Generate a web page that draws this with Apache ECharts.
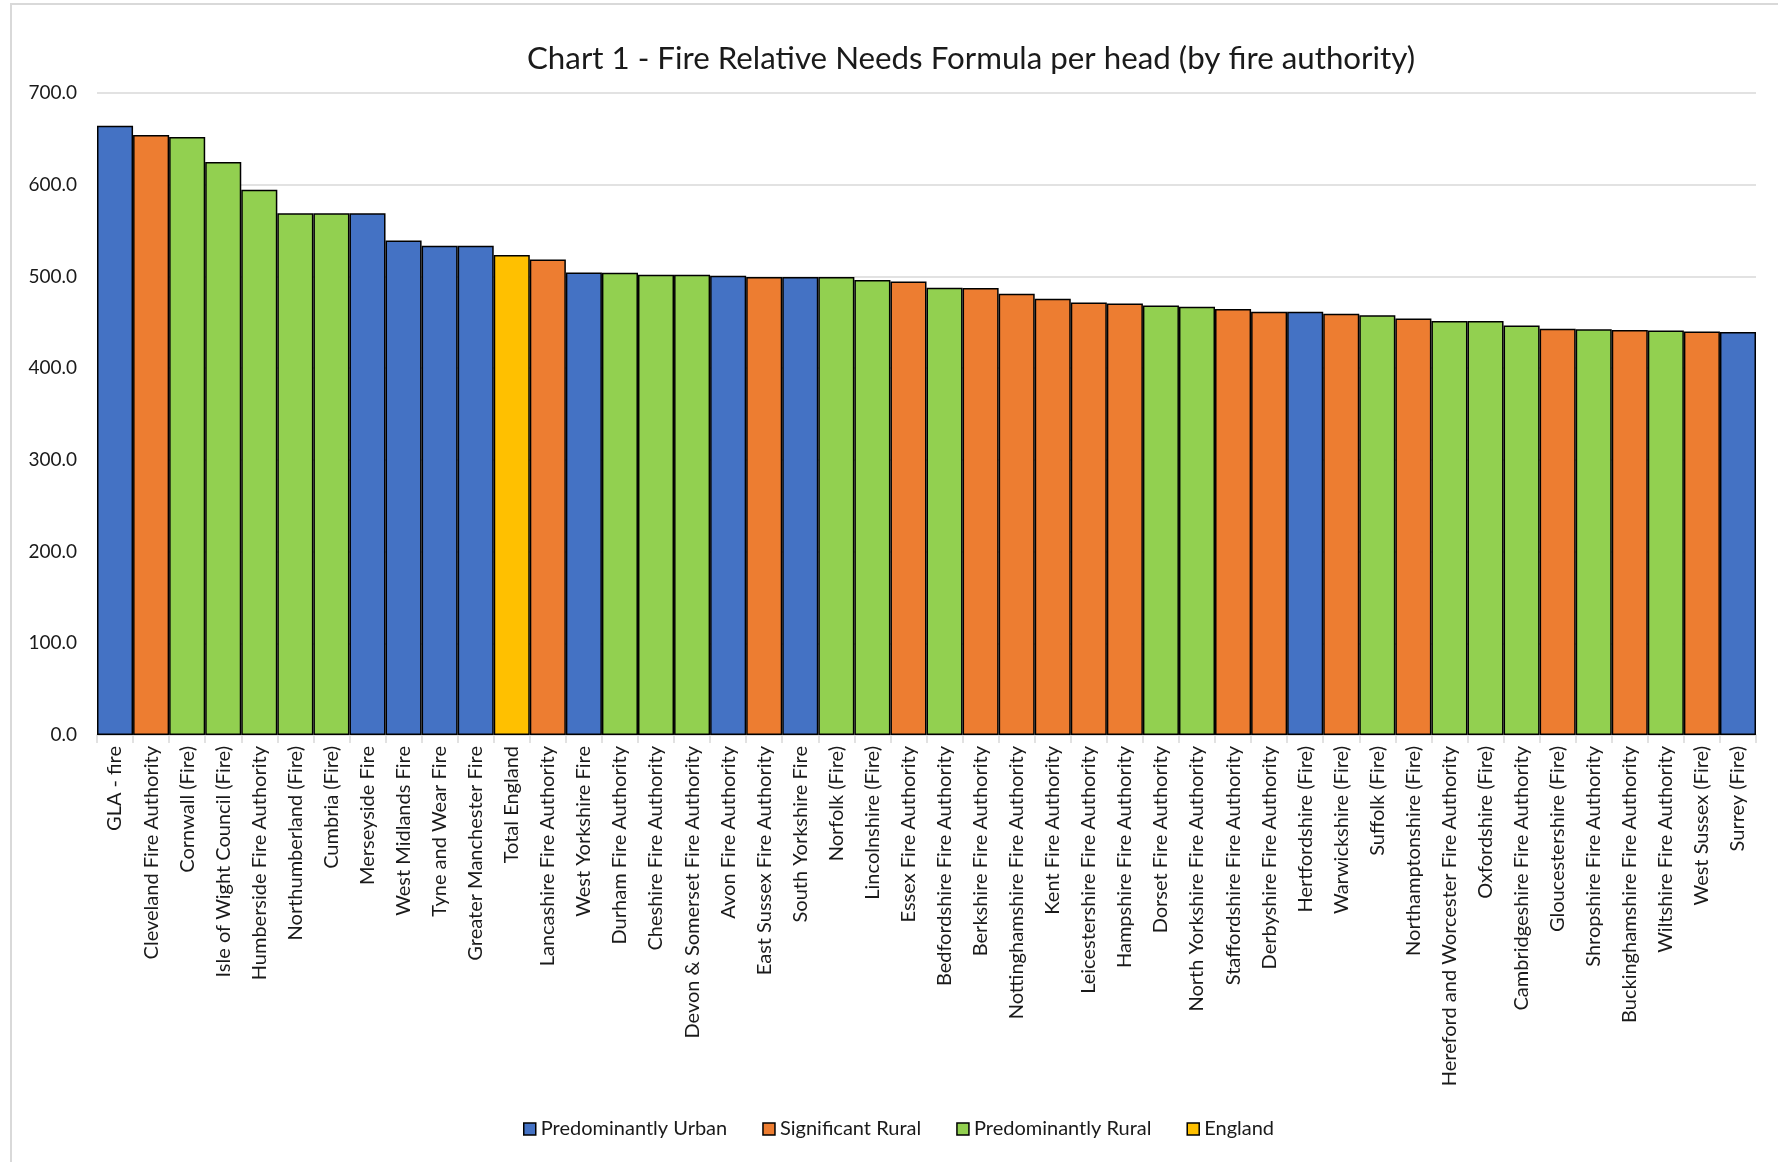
<!DOCTYPE html>
<html>
<head>
<meta charset="utf-8">
<script src="https://cdn.jsdelivr.net/npm/echarts@6/dist/echarts.min.js"></script>
<style>
   html, body { margin: 0; padding: 0; background: #fff; }
   #chart { width: 1778px; height: 1162px; }
</style>
</head>
<body>
<div id="chart"></div>
<script>
const authorities = [
   "GLA - fire","Cleveland Fire Authority","Cornwall (Fire)","Isle of Wight Council (Fire)",
   "Humberside Fire Authority","Northumberland (Fire)","Cumbria (Fire)","Merseyside Fire",
   "West Midlands Fire","Tyne and Wear Fire","Greater Manchester Fire","Total England",
   "Lancashire Fire Authority","West Yorkshire Fire","Durham Fire Authority","Cheshire Fire Authority",
   "Devon & Somerset Fire Authority","Avon Fire Authority","East Sussex Fire Authority","South Yorkshire Fire",
   "Norfolk (Fire)","Lincolnshire (Fire)","Essex Fire Authority","Bedfordshire Fire Authority",
   "Berkshire Fire Authority","Nottinghamshire Fire Authority","Kent Fire Authority","Leicestershire Fire Authority",
   "Hampshire Fire Authority","Dorset Fire Authority","North Yorkshire Fire Authority","Staffordshire Fire Authority",
   "Derbyshire Fire Authority","Hertfordshire (Fire)","Warwickshire (Fire)","Suffolk (Fire)",
   "Northamptonshire (Fire)","Hereford and Worcester Fire Authority","Oxfordshire (Fire)","Cambridgeshire Fire Authority",
   "Gloucestershire (Fire)","Shropshire Fire Authority","Buckinghamshire Fire Authority","Wiltshire Fire Authority",
   "West Sussex (Fire)","Surrey (Fire)"
];
// per head values
const perHead = [
   664.3,654.2,652.0,624.7,594.5,569.0,569.0,569.0,
   539.3,533.4,533.4,523.3,518.5,504.3,504.0,501.8,
   501.8,500.7,499.3,499.3,499.3,496.0,494.5,487.6,
   487.3,481.0,475.6,471.6,470.5,468.3,466.9,464.4,
   461.5,461.5,459.3,457.8,454.2,451.3,451.3,446.5,
   442.9,442.5,441.5,441.1,440.0,439.3
];
// U = Predominantly Urban, S = Significant Rural, R = Predominantly Rural, E = England
const classes = [
   "U","S","R","R","R","R","R","U",
   "U","U","U","E","S","U","R","R",
   "R","U","S","U","R","R","S","R",
   "S","S","S","S","S","R","R","S",
   "S","U","S","R","S","R","R","R",
   "S","R","S","R","S","U"
];
const groupNames = ["Predominantly Urban","Significant Rural","Predominantly Rural","England"];
const groupKeys = ["U","S","R","E"];
const groupColors = ["#4472C4","#ED7D31","#92D050","#FFC000"];
const yTicks = [0,100,200,300,400,500,600,700];

const font = "Lato";
const chart = echarts.init(document.getElementById('chart'));

const series = groupKeys.map((k,i)=>{
   return {
      type: "bar",
      name: groupNames[i],
      stack: "all",
      barCategoryGap: 0,
      itemStyle: { color: groupColors[i], borderColor: "#000", borderWidth: 1.5 },
      data: perHead.map((v,j)=> classes[j]==k ? v : "-"),
   }
});

const option = {
   animation: false,
   backgroundColor: "#fff",
   graphic: [{
      type: "rect",
      shape: { x: 11, y: 4, width: 1800, height: 1200 },
      style: { fill: "none", stroke: "#d9d9d9", lineWidth: 2 },
      silent: true,
   }],
   title: {
      text: "Chart 1 - Fire Relative Needs Formula per head (by fire authority)",
      left: 966,
      textAlign: "center",
      top: 38,
      textStyle: { fontFamily: font, fontSize: 31.3, fontWeight: "normal", color: "#1a1a1a" },
   },
   grid: { left: 97, right: 22, top: 93, bottom: 427, containLabel: false },
   xAxis: {
      type: "category",
      data: authorities,
      axisLine: { lineStyle: { color: "#d9d9d9", width: 1.5 } },
      axisTick: { show: true, length: 8, lineStyle: { color: "#d9d9d9", width: 1.5 } },
      axisLabel: {
         interval: 0,
         rotate: 90,
         margin: 11,
         fontFamily: font,
         fontSize: 20,
         color: "#1a1a1a",
      },
   },
   yAxis: {
      type: "value",
      min: yTicks[0],
      max: yTicks[yTicks.length-1],
      interval: 100,
      axisLine: { show: false },
      axisTick: { show: false },
      splitLine: { lineStyle: { color: "#d9d9d9", width: 1.5 } },
      axisLabel: {
         margin: 20,
         fontFamily: font,
         fontSize: 19,
         color: "#1a1a1a",
         formatter: (v)=> v.toFixed(1),
      },
   },
   legend: {
      data: groupNames,
      left: 518,
      top: 1114,
      icon: "rect",
      itemWidth: 12,
      itemHeight: 12,
      itemGap: 35,
      itemStyle: { borderColor: "#000", borderWidth: 1.5 },
      textStyle: { fontFamily: font, fontSize: 20, color: "#1a1a1a" },
   },
   series: series,
};
chart.setOption(option);
</script>
</body>
</html>
